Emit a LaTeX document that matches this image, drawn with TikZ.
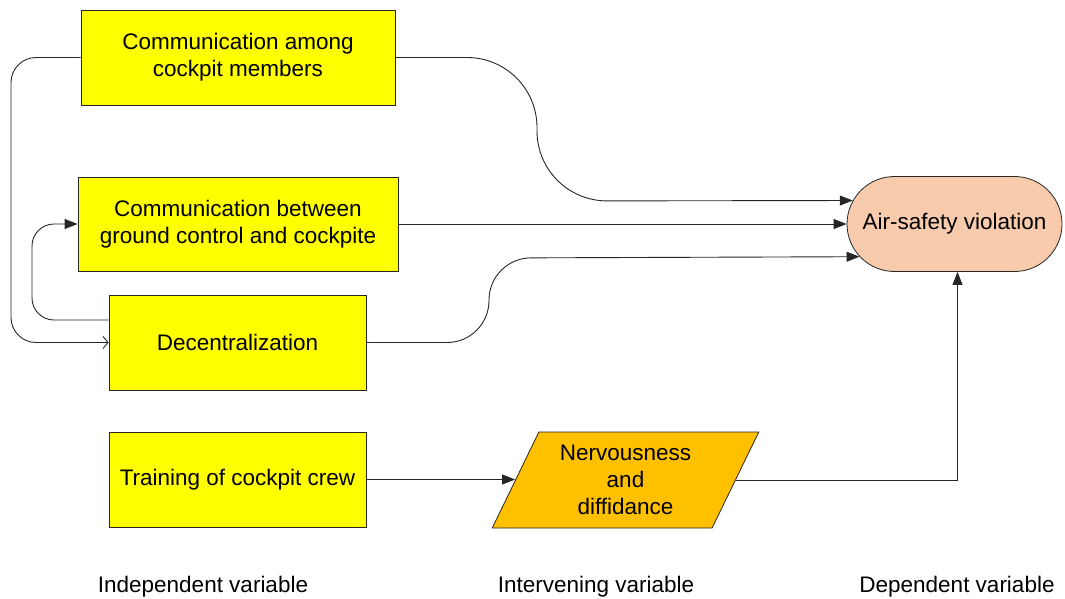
\documentclass[tikz,border=0pt]{standalone}
\usepackage{fontspec}
\setmainfont{Liberation Sans}
\usetikzlibrary{arrows.meta,shapes.geometric,shapes.misc,calc}
\definecolor{boxyellow}{HTML}{FFFF00}
\definecolor{paraorange}{HTML}{FFC000}
\definecolor{peach}{HTML}{F8CBAD}
\tikzset{
  varbox/.style={draw=black!85, line width=0.8pt, fill=boxyellow, minimum height=95pt, inner sep=2pt, align=center, font=\fontsize{22.5}{27}\selectfont},
  conn/.style={draw=black!85, line width=0.9pt},
  tri/.style={-{Triangle[length=13pt,width=10pt]}},
  barb/.style={-{Straight Barb[length=5pt,width=12pt]}},
  lbl/.style={font=\fontsize{22.5}{27}\selectfont, anchor=base}
}
\begin{document}
\begin{tikzpicture}[x=1pt,y=-1pt]
\useasboundingbox (0,0) rectangle (1065,599);
\node[varbox, minimum width=314pt] (A) at (238,57.5) {Communication among\\cockpit members};
\node[varbox, minimum width=320pt, minimum height=94pt] (B) at (238,224) {Communication between\\ground control and cockpite};
\node[varbox, minimum width=257pt] (C) at (237.5,342.5) {Decentralization};
\node[varbox, minimum width=257pt] (D) at (237.5,479.5) {Training of cockpit crew};
\node[draw=black!85, line width=0.8pt, fill=paraorange, trapezium, trapezium left angle=63.4, trapezium right angle=116.6, trapezium stretches=true, minimum width=267pt, minimum height=96pt, inner sep=1pt, align=center, font=\fontsize{22.5}{27}\selectfont] (P) at (625.5,480) {Nervousness\\and\\diffidance};
\node[draw=black!85, line width=0.8pt, fill=peach, rounded rectangle, minimum width=219pt, minimum height=95pt, inner sep=2pt, font=\fontsize{22.5}{27}\selectfont] (S) at (954.5,224) {Air-safety violation};
% connectors to outcome
\draw[conn, tri, rounded corners=70pt] (A.east) -- (537,57.5) -- (537,201) -- (S.167.6);
\draw[conn, tri] (B.east) -- (S.west);
\draw[conn, tri, rounded corners=42pt] (C.east) -- (489,342.5) -- (489,258) -- (S.199.4);
% left loops
\draw[conn, barb, rounded corners=25pt] (A.west) -- (11,57.5) -- (11,342.5) -- (C.west);
\coordinate (C2) at ($(C.west)+(0,-22.5)$);
\draw[conn, tri, rounded corners=22pt] (C2) -- (32,320) -- (32,224) -- (B.west);
% bottom chain
\draw[conn, tri] (D.east) -- (D.east -| P.west);
\draw[conn, tri] (P.east) -| ($(S.south)+(3,0)$);
% labels
\node[lbl] (L1) at (203,592) {Independent variable};
\node[lbl] (L2) at (596,592) {Intervening variable};
\node[lbl] (L3) at (957,592) {Dependent variable};
\end{tikzpicture}
\end{document}
